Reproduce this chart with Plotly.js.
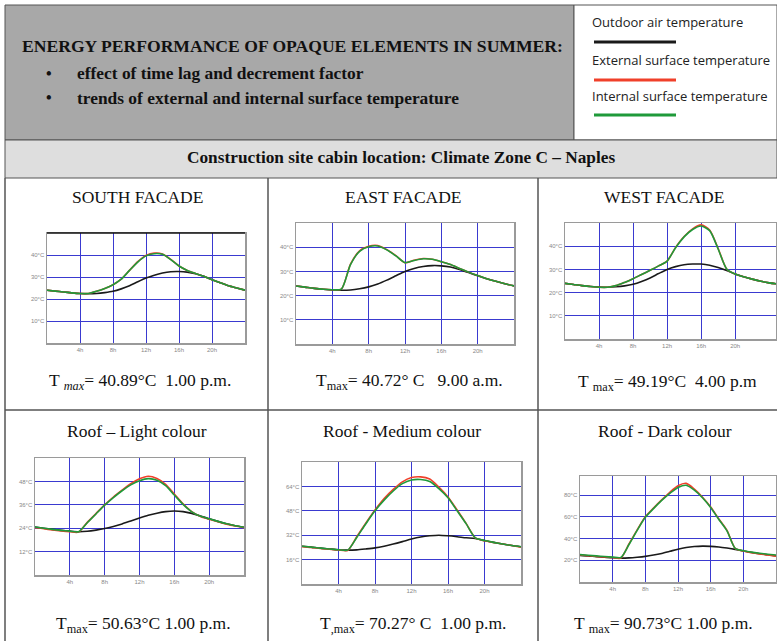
<!DOCTYPE html>
<html><head><meta charset="utf-8">
<script src="https://cdn.plot.ly/plotly-3.0.1.min.js"></script>
<style>html,body{margin:0;padding:0;background:#fff;}#chart{width:777px;height:641px;}</style>
</head><body><div id="chart"></div>
<script>
// ---------- data ----------
const hours = [0,1,2,3,4,5,6,7,8,9,10,11,12,13,14,15,16,17,18,19,20,21,22,23,24];
const hoursWest = [0,1,2,3,4,5,6,7,8,9,10,11,12,13,14,15,16,17,18,19,20,21,22,23,24,25];

const southAir = [24,23.6,23.2,22.8,22.5,22.4,22.5,22.9,23.5,24.6,26,27.8,29.5,30.8,31.8,32.4,32.5,32.2,31.5,30.3,28.8,27.4,26,25,24];
const southExt = [24,23.6,23.2,22.8,22.5,22.5,23.5,24.8,26.5,29,33,37,39.8,40.89,40.5,38,35,33,31.6,30.3,28.8,27.4,26,25,24];
const southInt = [24,23.6,23.2,22.8,22.5,22.5,23.5,24.8,26.5,29,33,36.8,39.6,40.6,40.3,37.9,35,33,31.6,30.3,28.8,27.4,26,25,24];

const eastAir = [24,23.5,23,22.6,22.3,22.2,22.3,22.8,23.6,24.8,26.4,28.2,30,31.2,32,32.4,32.3,31.8,30.8,29.5,28.2,27,25.9,24.9,24];
const eastExt = [24,23.5,23,22.6,22.4,22.7,33,38.5,40.4,40.72,39,36.5,33.6,34.6,35.3,35,34,32.8,31.2,29.7,28.3,27,25.9,24.9,24];
const eastInt = [24,23.5,23,22.6,22.4,22.7,32.8,38.3,40.2,40.5,38.9,36.4,33.6,34.5,35.2,35,34,32.8,31.2,29.7,28.3,27,25.9,24.9,24];

const westAir = [24,23.5,23,22.6,22.4,22.3,22.5,22.9,23.6,24.8,26.3,28.2,30,31.2,32,32.3,32.3,31.8,30.8,29.5,28,26.8,25.8,24.9,24.2,23.7];
const westExt = [24,23.5,23,22.6,22.3,22.3,23,24.4,26,27.8,29.6,31.5,33.6,39.5,44.2,47.5,49.19,47,39,30.2,28,26.8,25.8,24.9,24.2,23.7];
const westInt = [24,23.5,23,22.6,22.3,22.3,23,24.4,26,27.8,29.6,31.5,33.6,39.3,44,47.2,48.7,46.7,38.8,30.2,28,26.8,25.8,24.9,24.2,23.7];

const lightAir = [24.6,24,23.4,22.9,22.5,22.2,22.4,23,23.8,24.9,26.2,27.7,29.2,30.6,31.7,32.5,32.8,32.5,31.6,30.3,28.8,27.5,26.3,25.3,24.5];
const lightExt = [24.2,23.7,23.1,22.6,22.2,22,27,31.5,36,40,43.5,46.8,49.3,50.63,49.5,46.5,41.5,36.5,32.5,30,28.6,27.3,26.1,25.1,24.3];
const lightInt = [24.6,24,23.4,22.9,22.5,22.2,26.8,31.3,35.8,39.7,43.2,46.2,48.3,49.4,48.6,45.8,41,36.2,32.4,30.1,28.8,27.5,26.3,25.3,24.5];

const mediumAir = [24.8,24.2,23.5,23,22.5,22.2,22.4,23,23.7,24.8,26.2,27.8,29.5,30.8,31.6,32,31.6,31,30.3,29.8,28.5,27.3,26.2,25.2,24.4];
const mediumExt = [24.5,24,23.3,22.8,22.3,22,31,40,48.5,56,62,67,69.8,70.27,68.8,63.5,57,48.5,39.6,30.2,28.3,27.2,26.2,25.2,24.2];
const mediumInt = [24.8,24.2,23.5,23,22.5,22.2,30.5,39.5,48,55,61,65.8,68.2,68.5,67.2,62.5,56.5,48,39.4,30.2,28.5,27.3,26.2,25.2,24.4];

const darkAir = [24.5,24,23.3,22.8,22.3,22,22.2,22.8,23.6,24.8,26.3,28.2,30.2,31.7,32.6,33,32.8,32.2,31.2,30,28.5,27.2,26,25,24];
const darkExt = [24.8,24.2,23.5,23,22.5,22,35,48,60,68,75.5,82.5,88.5,90.73,85.5,78,69,58,47.5,31,28.5,27,25.8,24.8,23.8];
const darkInt = [25.2,24.6,24,23.4,22.9,22.5,34.5,47.5,59.5,67.5,75,81.5,87,89,84.5,77.5,68.5,57.5,47,31,28.8,27.5,26.5,25.6,24.8];

const xTickVals = [4,8,12,16,20];
const xTickText = ["4h","8h","12h","16h","20h"];
const facadeTickVals = [10,20,30,40];
const facadeTickText = ["10°C","20°C","30°C","40°C"];
const lightTickVals = [12,24,36,48];
const lightTickText = ["12°C","24°C","36°C","48°C"];
const mediumTickVals = [16,32,48,64];
const mediumTickText = ["16°C","32°C","48°C","64°C"];
const darkTickVals = [20,40,60,80];
const darkTickText = ["20°C","40°C","60°C","80°C"];

const panelTitles = ["SOUTH FACADE","EAST FACADE","WEST FACADE","Roof \u2013 Light colour","Roof - Medium colour","Roof - Dark colour"];
const panelCaptions = [
  "T <sub><i>max</i></sub>= 40.89°C\u00a0\u00a01.00 p.m.",
  "T<sub>max</sub>= 40.72° C\u00a0\u00a0\u00a09.00 a.m.",
  "T <sub>max</sub>= 49.19°C\u00a0\u00a04.00 p.m",
  "T<sub>max</sub>= 50.63°C 1.00 p.m.",
  "T<sub>,max</sub>= 70.27° C\u00a0\u00a01.00 p.m.",
  "T <sub>max</sub>= 90.73°C 1.00 p.m."
];
const seriesNames = ["Outdoor air temperature","External surface temperature","Internal surface temperature"];

// ---------- layout helpers ----------
const W = 777, H = 641;
const X = p => p / W;
const Y = p => 1 - p / H;

const panels = [
  {x:hours, d:[southAir,southExt,southInt], px:[47,245], py:[233,343], xr:[0,24], yr:[0,50], tv:facadeTickVals, tt:facadeTickText, tx:137, ty:197, cx:140, cy:381},
  {x:hours, d:[eastAir,eastExt,eastInt], px:[296,514], py:[223,344], xr:[0,24], yr:[0,50], tv:facadeTickVals, tt:facadeTickText, tx:403, ty:197, cx:409, cy:381},
  {x:hoursWest, d:[westAir,westExt,westInt], px:[565,776], py:[223,339], xr:[0,24.8], yr:[0,50], tv:facadeTickVals, tt:facadeTickText, tx:664, ty:197, cx:667, cy:382},
  {x:hours, d:[lightAir,lightExt,lightInt], px:[35,244], py:[458,575], xr:[0,24], yr:[0,60], tv:lightTickVals, tt:lightTickText, tx:137, ty:431, cx:143, cy:624},
  {x:hours, d:[mediumAir,mediumExt,mediumInt], px:[302,521], py:[462,584], xr:[0,24], yr:[0,80], tv:mediumTickVals, tt:mediumTickText, tx:402, ty:431, cx:413, cy:624},
  {x:hours, d:[darkAir,darkExt,darkInt], px:[580,776], py:[476,582], xr:[0,24], yr:[0,97.5], tv:darkTickVals, tt:darkTickText, tx:665, ty:431, cx:663, cy:624}
];

const colors = ["#1a1a1a","#f0402a","#1f9a3a"];
const traces = [];
const layout = {
  width: W, height: H,
  margin: {l:0,r:0,t:0,b:0},
  paper_bgcolor: "#ffffff", plot_bgcolor: "#ffffff",
  showlegend: false,
  shapes: [], annotations: []
};

const serif = "Liberation Serif, Times New Roman, serif";
panels.forEach((p, i) => {
  const n = i === 0 ? "" : String(i + 1);
  [0,1,2].forEach(k => {
    traces.push({
      x: p.x, y: p.d[k], type: "scatter", mode: "lines", name: seriesNames[k],
      xaxis: "x" + n, yaxis: "y" + n,
      line: {color: colors[k], width: 1.6, shape: "spline", smoothing: 0.7},
      hoverinfo: "skip"
    });
  });
  layout["xaxis" + n] = {
    domain: [X(p.px[0]), X(p.px[1])], range: p.xr, anchor: "y" + n,
    tickvals: xTickVals, ticktext: xTickText, tickfont: {size: 6, color: "#888", family: "Arial"},
    showgrid: true, gridcolor: "#3a3ad0", gridwidth: 1, zeroline: false,
    showline: true, mirror: true, linecolor: "#9a9a9a", linewidth: 1.5, ticks: "", fixedrange: true
  };
  layout["yaxis" + n] = {
    domain: [Y(p.py[1]), Y(p.py[0])], range: p.yr, anchor: "x" + n,
    tickvals: p.tv, ticktext: p.tt, tickfont: {size: 6, color: "#888", family: "Arial"},
    showgrid: true, gridcolor: "#3a3ad0", gridwidth: 1, zeroline: false,
    showline: true, mirror: true, linecolor: "#9a9a9a", linewidth: 1.5, ticks: "", fixedrange: true
  };
  layout.annotations.push({
    xref: "paper", yref: "paper", x: X(p.tx), y: Y(p.ty), xanchor: "center", yanchor: "middle",
    text: panelTitles[i], showarrow: false,
    font: {family: serif, size: 17.5, color: "#111"}
  });
  layout.annotations.push({
    xref: "paper", yref: "paper", x: X(p.cx), y: Y(p.cy), xanchor: "center", yanchor: "middle",
    text: panelCaptions[i], showarrow: false,
    font: {family: serif, size: 17.5, color: "#111"}
  });
});

// south facade top border is black
layout.shapes.push({type:"line", xref:"paper", yref:"paper", x0:X(47), x1:X(245), y0:Y(233), y1:Y(233), line:{color:"#111", width:1.5}});

// header boxes
const border = "#555";
layout.shapes.push(
  {type:"rect", xref:"paper", yref:"paper", x0:X(5), x1:X(574), y0:Y(140), y1:Y(5), fillcolor:"#a8a8a8", line:{color:border, width:1}, layer:"below"},
  {type:"rect", xref:"paper", yref:"paper", x0:X(574), x1:X(777), y0:Y(140), y1:Y(5), fillcolor:"#ffffff", line:{color:border, width:1}, layer:"below"},
  {type:"rect", xref:"paper", yref:"paper", x0:X(5), x1:X(777), y0:Y(178), y1:Y(140), fillcolor:"#dedede", line:{color:border, width:1}, layer:"below"},
  {type:"line", xref:"paper", yref:"paper", x0:X(5), x1:X(5), y0:Y(641), y1:Y(178), line:{color:border, width:1.5}},
  {type:"line", xref:"paper", yref:"paper", x0:X(268), x1:X(268), y0:Y(641), y1:Y(178), line:{color:border, width:1.5}},
  {type:"line", xref:"paper", yref:"paper", x0:X(538), x1:X(538), y0:Y(641), y1:Y(178), line:{color:border, width:1.5}},
  {type:"line", xref:"paper", yref:"paper", x0:X(5), x1:X(777), y0:Y(410), y1:Y(410), line:{color:border, width:1.5}}
);
// legend sample lines
[42, 80, 115].forEach((py, k) => {
  layout.shapes.push({type:"line", xref:"paper", yref:"paper", x0:X(594), x1:X(676), y0:Y(py), y1:Y(py), line:{color:colors[k], width:3}});
});
[22, 60, 96].forEach((py, k) => {
  layout.annotations.push({xref:"paper", yref:"paper", x:X(590), y:Y(py), xanchor:"left", yanchor:"middle", showarrow:false,
    text: seriesNames[k], font:{family:"Open Sans, Noto Sans, sans-serif", size:13, color:"#222"}});
});

layout.annotations.push(
  {xref:"paper", yref:"paper", x:X(20), y:Y(46), xanchor:"left", yanchor:"middle", showarrow:false,
   text:"<b>ENERGY PERFORMANCE OF OPAQUE ELEMENTS IN SUMMER:</b>", font:{family:serif, size:17.6, color:"#111"}},
  {xref:"paper", yref:"paper", x:X(44), y:Y(73), xanchor:"left", yanchor:"middle", showarrow:false,
   text:"<b>•</b>", font:{family:serif, size:16, color:"#111"}},
  {xref:"paper", yref:"paper", x:X(75), y:Y(73), xanchor:"left", yanchor:"middle", showarrow:false,
   text:"<b>effect of time lag and decrement factor</b>", font:{family:serif, size:17.4, color:"#111"}},
  {xref:"paper", yref:"paper", x:X(44), y:Y(98), xanchor:"left", yanchor:"middle", showarrow:false,
   text:"<b>•</b>", font:{family:serif, size:16, color:"#111"}},
  {xref:"paper", yref:"paper", x:X(75), y:Y(98), xanchor:"left", yanchor:"middle", showarrow:false,
   text:"<b>trends of external and internal surface temperature</b>", font:{family:serif, size:17.4, color:"#111"}},
  {xref:"paper", yref:"paper", x:X(401), y:Y(158), xanchor:"center", yanchor:"middle", showarrow:false,
   text:"<b>Construction site cabin location: Climate Zone C \u2013 Naples</b>", font:{family:serif, size:17.3, color:"#111"}}
);

Plotly.newPlot("chart", traces, layout, {staticPlot: true, displayModeBar: false});
</script>
</body></html>
